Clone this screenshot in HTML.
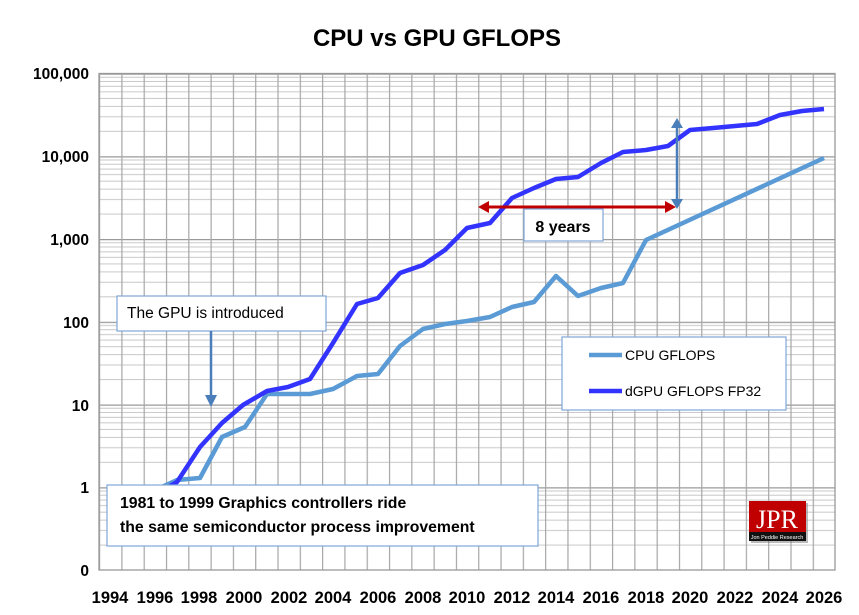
<!DOCTYPE html>
<html><head><meta charset="utf-8"><style>
body{margin:0;background:#fff;}
svg{display:block;font-family:"Liberation Sans",sans-serif;}
</style></head><body>
<svg width="859" height="615" viewBox="0 0 859 615" xmlns="http://www.w3.org/2000/svg">
<defs>
<pattern id="hp" x="99" y="73.5" width="736" height="82.75" patternUnits="userSpaceOnUse">
<g stroke="#c8c8c8" stroke-width="1">
<line x1="0" x2="736" y1="57.84" y2="57.84"/>
<line x1="0" x2="736" y1="43.27" y2="43.27"/>
<line x1="0" x2="736" y1="32.93" y2="32.93"/>
<line x1="0" x2="736" y1="24.91" y2="24.91"/>
<line x1="0" x2="736" y1="18.36" y2="18.36"/>
<line x1="0" x2="736" y1="12.82" y2="12.82"/>
<line x1="0" x2="736" y1="8.02" y2="8.02"/>
<line x1="0" x2="736" y1="3.79" y2="3.79"/>
</g>
<line x1="0" x2="736" y1="0.6" y2="0.6" stroke="#9a9a9a" stroke-width="1.3"/>
</pattern>
<pattern id="vp" x="99" y="73.5" width="22.303" height="497" patternUnits="userSpaceOnUse">
<line x1="0.6" x2="0.6" y1="0" y2="497" stroke="#a6a6a6" stroke-width="1.2"/>
</pattern>
</defs>
<rect width="859" height="615" fill="#fff"/>
<text x="437" y="46" text-anchor="middle" font-size="24" font-weight="bold">CPU vs GPU GFLOPS</text>
<rect x="99" y="73.5" width="736" height="496.5" fill="url(#hp)"/>
<rect x="99" y="73.5" width="736" height="496.5" fill="url(#vp)"/>
<rect x="99" y="73.5" width="736" height="496.5" fill="none" stroke="#999" stroke-width="1.3"/>
<g font-size="15.5" font-weight="bold" text-anchor="end">
<text x="89" y="79">100,000</text>
<text x="89" y="162">10,000</text>
<text x="89" y="245">1,000</text>
<text x="89" y="328">100</text>
<text x="89" y="411">10</text>
<text x="89" y="493">1</text>
<text x="89" y="576">0</text>
</g>
<g font-size="16.5" font-weight="bold" text-anchor="middle">
<text x="110" y="603">1994</text><text x="155" y="603">1996</text><text x="199" y="603">1998</text>
<text x="244" y="603">2000</text><text x="289" y="603">2002</text><text x="333" y="603">2004</text>
<text x="378" y="603">2006</text><text x="423" y="603">2008</text><text x="467" y="603">2010</text>
<text x="512" y="603">2012</text><text x="556" y="603">2014</text><text x="601" y="603">2016</text>
<text x="646" y="603">2018</text><text x="690" y="603">2020</text><text x="735" y="603">2022</text>
<text x="780" y="603">2024</text><text x="824" y="603">2026</text>
</g>
<polyline fill="none" stroke="#5b9bd5" stroke-width="4.5" stroke-linejoin="round" points="155,490 177,480 200,478 222,437 245,427 267,394 289,394 310,394 333,389 357,376 378,374 400,346 423,329 445,324 467,321 490,317 512,307 534,302 556,276 578,296 601,288 623,283 646,240 824,158"/>
<polyline fill="none" stroke="#3333ff" stroke-width="4.5" stroke-linejoin="round" points="160,492 177,482 200,447 222,423 243,405 267,391 288,387 310,379 333,343 357,304 378,298 400,273 423,265 445,250 467,228 490,223 512,198 534,188 556,179 578,177 601,163 623,152 646,150 668,146 690,130 713,128 735,126 757,124 780,115 802,111 824,109"/>
<rect x="117" y="296" width="209" height="35" fill="#fff" stroke="#7ea6d8" stroke-width="1.2"/>
<text x="127" y="318" font-size="15.5">The GPU is introduced</text>
<line x1="211" y1="331" x2="211" y2="396" stroke="#4a7ebb" stroke-width="2.5"/>
<polygon points="205,395 217,395 211,407" fill="#4a7ebb"/>
<rect x="107" y="485" width="431" height="61" fill="#fff" stroke="#7ea6d8" stroke-width="1.2"/>
<text x="120" y="508" font-size="15.8" font-weight="bold">1981 to 1999 Graphics controllers ride</text>
<text x="120" y="532" font-size="15.8" font-weight="bold">the same semiconductor process improvement</text>
<line x1="486" y1="207" x2="668" y2="207" stroke="#c00000" stroke-width="3"/>
<polygon points="478,207 489,201 489,213" fill="#c00000"/>
<polygon points="676,207 665,201 665,213" fill="#c00000"/>
<line x1="677" y1="126" x2="677" y2="201" stroke="#4a7ebb" stroke-width="2.5"/>
<polygon points="677,118 671,128 683,128" fill="#4a7ebb"/>
<polygon points="677,209 671,199 683,199" fill="#4a7ebb"/>
<rect x="524" y="209" width="79" height="32" fill="#fff" stroke="#7ea6d8" stroke-width="1.2"/>
<text x="563" y="232" font-size="16" font-weight="bold" text-anchor="middle">8 years</text>
<rect x="562" y="337" width="224" height="73" fill="#fff" stroke="#7ea6d8" stroke-width="1.2"/>
<line x1="589" y1="355" x2="622" y2="355" stroke="#5b9bd5" stroke-width="4.5"/>
<text x="625" y="360" font-size="14">CPU GFLOPS</text>
<line x1="589" y1="391" x2="622" y2="391" stroke="#3333ff" stroke-width="4.5"/>
<text x="625" y="396" font-size="14">dGPU GFLOPS FP32</text>
<rect x="751" y="503" width="57" height="40" fill="#777" opacity="0.5"/>
<rect x="749" y="501" width="57" height="31" fill="#c00000"/>
<rect x="749" y="532" width="57" height="9" fill="#111"/>
<text x="777" y="528" font-family="Liberation Serif,serif" font-size="26" fill="#fff" text-anchor="middle">JPR</text>
<text x="777" y="539" font-size="5.5" fill="#fff" text-anchor="middle">Jon Peddie Research</text>
</svg>
</body></html>
